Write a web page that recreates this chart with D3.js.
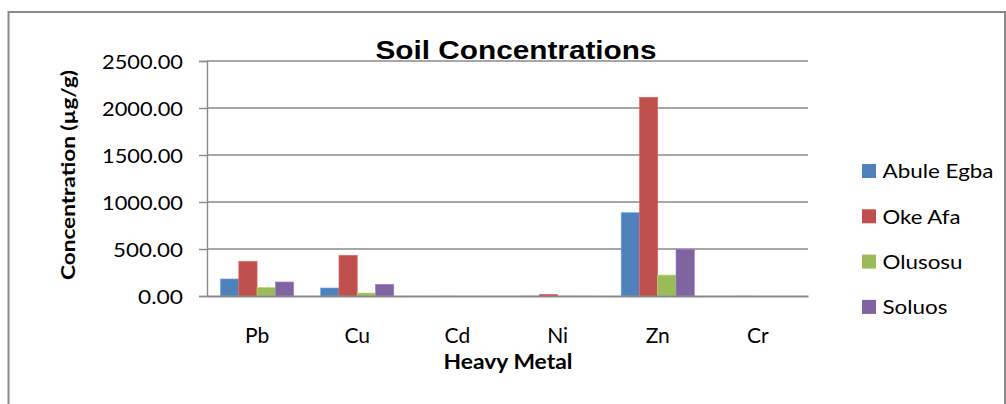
<!DOCTYPE html>
<html><head><meta charset="utf-8">
<script src="https://cdn.jsdelivr.net/npm/d3@7"></script>
<style>html,body{margin:0;padding:0;background:#fff;}svg{display:block;}</style>
</head><body>
<svg id="c" width="1006" height="404"></svg>
<script>
const categories = ["Pb","Cu","Cd","Ni","Zn","Cr"];
const seriesNames = ["Abule Egba","Oke Afa","Olusosu","Soluos"];
const abuleEgba = [181, 85, 0.5, 2, 886, 0.5];
const okeAfa = [369, 433, 0.8, 18, 2114, 0.6];
const olusosu = [92, 32, 0.2, 1, 223, 0.2];
const soluos = [149, 124, 0.4, 1.5, 497, 0.4];
const yTicks = [0, 500, 1000, 1500, 2000, 2500];
const colors = ["#4F81BD","#C0504D","#9BBB59","#8064A2"];
const seriesValues = [abuleEgba, okeAfa, olusosu, soluos];

(function(){
const svg = d3.select("#c");
const font = "Lato, 'Open Sans', sans-serif";

function fit(sel, w){ sel.attr("textLength", w).attr("lengthAdjust","spacingAndGlyphs"); return sel; }

// outer border
svg.append("rect").attr("x",8.5).attr("y",12).attr("width",996.5).attr("height",420)
  .attr("fill","none").attr("stroke","#898989").attr("stroke-width",2);

const pLeft = 207, pRight = 808, pTop = 61, pBottom = 296;
const y = d3.scaleLinear().domain([0,2500]).range([pBottom, pTop]);
const x = d3.scaleBand().domain(categories).range([pLeft, pRight]).paddingInner(0.27).paddingOuter(0.135);
const xs = d3.scaleBand().domain(seriesNames).range([0, x.bandwidth()]);

// gridlines
svg.append("g").selectAll("line").data(yTicks.filter(d=>d>0)).join("line")
  .attr("x1", pLeft).attr("x2", pRight).attr("y1", d=>y(d)).attr("y2", d=>y(d))
  .attr("stroke","#8a8a8a").attr("stroke-width",1.4);

// y axis
const yAxis = d3.axisLeft(y).tickValues(yTicks).tickFormat(d3.format(".2f")).tickSizeOuter(0).tickSize(8).tickPadding(16);
const ya = svg.append("g").attr("transform",`translate(${pLeft},0)`).call(yAxis);
ya.select(".domain").attr("stroke","#8a8a8a").attr("stroke-width",1.4);
ya.selectAll(".tick line").attr("stroke","#8a8a8a").attr("stroke-width",1.4);
ya.selectAll(".tick text").attr("font-family",font).attr("font-size",20).attr("fill","#000")
  .attr("dy","0.36em").each(function(d){ d3.select(this).call(fit, d>=1000 ? 81 : (d>0 ? 70 : 45)); });

// bars
const g = svg.append("g");
seriesValues.forEach((vals, si) => {
  g.append("g").selectAll("rect").data(vals).join("rect")
    .attr("x", (d,i)=>x(categories[i]) + xs(seriesNames[si]))
    .attr("width", xs.bandwidth())
    .attr("y", d=>y(d)).attr("height", d=>y(0)-y(d))
    .attr("fill", colors[si])
    .attr("stroke", d3.color(colors[si]).brighter(0.6)).attr("stroke-width", d => d > 5 ? 0.6 : 0);
});

// x axis
const xAxis = d3.axisBottom(x).tickSize(0).tickSizeOuter(0).tickPadding(47);
const xa = svg.append("g").attr("transform",`translate(0,${y(0)})`).call(xAxis);
xa.select(".domain").attr("stroke","#8a8a8a").attr("stroke-width",2);
xa.selectAll(".tick text").attr("font-family",font).attr("font-size",21).attr("fill","#000").attr("dy","0");

// axis titles
svg.append("text").attr("x",508).attr("y",369).attr("text-anchor","middle")
  .attr("font-family",font).attr("font-weight","bold").attr("font-size",21).attr("fill","#000")
  .text("Heavy Metal").call(fit,129);
svg.append("text").attr("transform","translate(75,175) rotate(-90)").attr("text-anchor","middle")
  .attr("font-family",font).attr("font-weight","bold").attr("font-size",19).attr("fill","#000")
  .text("Concentration (µg/g)").call(fit,210);

// title
svg.append("text").attr("x",516).attr("y",58.5).attr("text-anchor","middle")
  .attr("font-family","'Liberation Sans', Arial, sans-serif").attr("font-weight","bold").attr("font-size",25).attr("fill","#000")
  .text("Soil Concentrations").call(fit,281);

// legend
const legendW = [111, 78, 80, 65];
const lg = svg.append("g").selectAll("g").data(seriesNames).join("g")
  .attr("transform",(d,i)=>`translate(862,${171 + i*45.3})`);
lg.append("rect").attr("x",0).attr("y",-7).attr("width",14).attr("height",14).attr("fill",(d,i)=>colors[i]);
lg.append("text").attr("x",20.5).attr("y",0).attr("dy","0.36em")
  .attr("font-family",font).attr("font-size",20).attr("fill","#000").text(d=>d)
  .each(function(d,i){ d3.select(this).call(fit, legendW[i]); });
})();
</script>
</body></html>
